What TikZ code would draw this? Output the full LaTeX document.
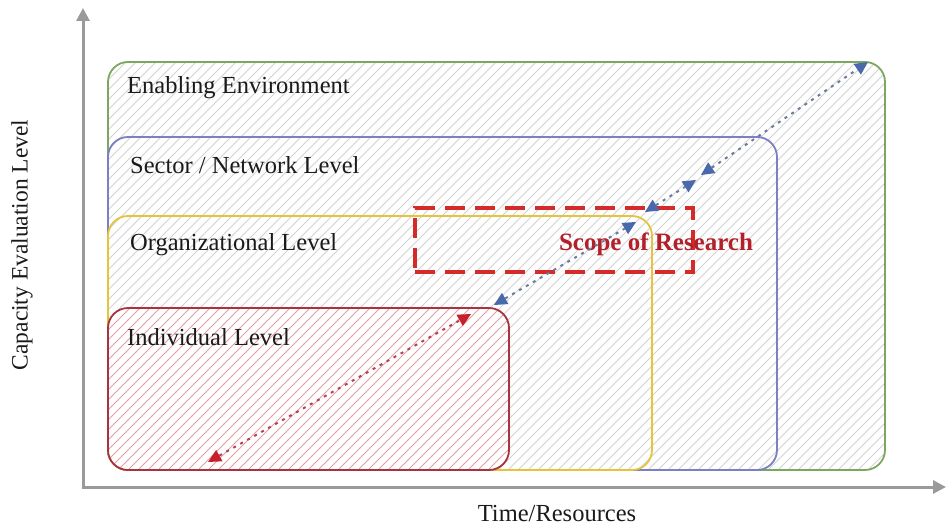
\documentclass[tikz,border=0pt]{standalone}
\usepackage{fontspec}
\setmainfont{Liberation Serif}
\usetikzlibrary{arrows.meta}
\definecolor{gbord}{HTML}{7AA85E}
\definecolor{bbord}{HTML}{7B7FC4}
\definecolor{ybord}{HTML}{E6C43A}
\definecolor{rbord}{HTML}{A8323E}
\definecolor{scopered}{HTML}{D42A2A}
\definecolor{scopetext}{HTML}{B3202A}
\definecolor{hatchgray}{HTML}{D2D2D2}
\definecolor{hatchred}{HTML}{E0A0A8}
\definecolor{arrblue}{HTML}{4A68AC}
\definecolor{dotblue}{HTML}{6C7A9C}
\definecolor{arrred}{HTML}{C8202A}
\definecolor{dotred}{HTML}{B84050}
\definecolor{axisgray}{HTML}{9A9A9A}
\definecolor{txt}{HTML}{1A1A1A}
\tikzset{
  levelbox/.style n args={2}{draw=#1, line width=1.8pt, fill=white, rounded corners=20pt,
    inner sep=0pt, outer sep=0pt, anchor=center,
    path picture={\foreach \i in {-60,...,100}
      \draw[#2, line width=0.8pt] ([xshift=\i*10pt]path picture bounding box.south west) -- ++(45:700pt);}},
  leveltext/.style={anchor=west, text=txt, font=\fontsize{24.5}{28}\selectfont, inner sep=0pt},
  axis/.style={draw=axisgray, line width=3pt, -{Triangle[length=13pt,width=13pt]}},
  bluearr/.style={draw=dotblue, line width=2pt, dash pattern=on 3pt off 5pt,
    {Triangle[length=13pt,width=13pt,fill=arrblue,color=arrblue,line width=0pt]}-{Triangle[length=13pt,width=13pt,fill=arrblue,color=arrblue,line width=0pt]}},
  redarr/.style={draw=dotred, line width=2pt, dash pattern=on 3pt off 5pt,
    {Triangle[length=13pt,width=13pt,fill=arrred,color=arrred,line width=0pt]}-{Triangle[length=13pt,width=13pt,fill=arrred,color=arrred,line width=0pt]}},
  scopebox/.style={draw=scopered, line width=3.2pt, dash pattern=on 20pt off 10pt, inner sep=0pt, outer sep=0pt}
}
\begin{document}
\begin{tikzpicture}[x=1pt,y=-1pt]
\useasboundingbox (0,0) rectangle (947,527);
% axes
\coordinate (orig) at (83,487);
\coordinate (ytip) at (83,8);
\coordinate (xtip) at (946,487);
\draw[axis] (orig) -- (ytip);
\draw[axis] ([xshift=-1.5pt]orig) -- (xtip);
% boxes
\node[levelbox={gbord}{hatchgray}, minimum width=777pt, minimum height=408pt] (env) at (496.5,266) {};
\node[levelbox={bbord}{hatchgray}, minimum width=669pt, minimum height=333pt] (sector) at (442.5,303.5) {};
\node[levelbox={ybord}{hatchgray}, minimum width=544pt, minimum height=254pt] (org) at (380,343) {};
\node[levelbox={rbord}{hatchred}, minimum width=401pt, minimum height=162pt] (ind) at (308.5,389) {};
% labels
\node[leveltext] (tenv) at (127,88) {Enabling Environment};
\node[leveltext] (tsec) at (130,165) {Sector / Network Level};
\node[leveltext] (torg) at (130,245) {Organizational Level};
\node[leveltext] (tind) at (127,337) {Individual Level};
% scope
\node[scopebox, minimum width=278pt, minimum height=64pt] (scope) at (554,240) {};
\node[text=scopetext, font=\bfseries\fontsize{25}{28}\selectfont, inner sep=0pt] (tscope) at (656,244) {Scope of Research};
% arrows
\coordinate (r1) at (208,462);
\coordinate (r2) at (471,314);
\coordinate (b1) at (494,305);
\coordinate (b2) at (636,222);
\coordinate (b3) at (645,212);
\coordinate (b4) at (696,180);
\coordinate (b5) at (701,175);
\coordinate (b6) at (868,62);
\draw[redarr] (r1) -- (r2);
\draw[bluearr] (b1) -- (b2);
\draw[bluearr] (b3) -- (b4);
\draw[bluearr] (b5) -- (b6);
% axis labels
\node[text=txt, font=\fontsize{23.5}{28}\selectfont, rotate=90, inner sep=0pt] (ylab) at (22,245) {Capacity Evaluation Level};
\node[text=txt, font=\fontsize{24.5}{28}\selectfont, inner sep=0pt] (xlab) at (557,514) {Time/Resources};
\end{tikzpicture}
\end{document}
